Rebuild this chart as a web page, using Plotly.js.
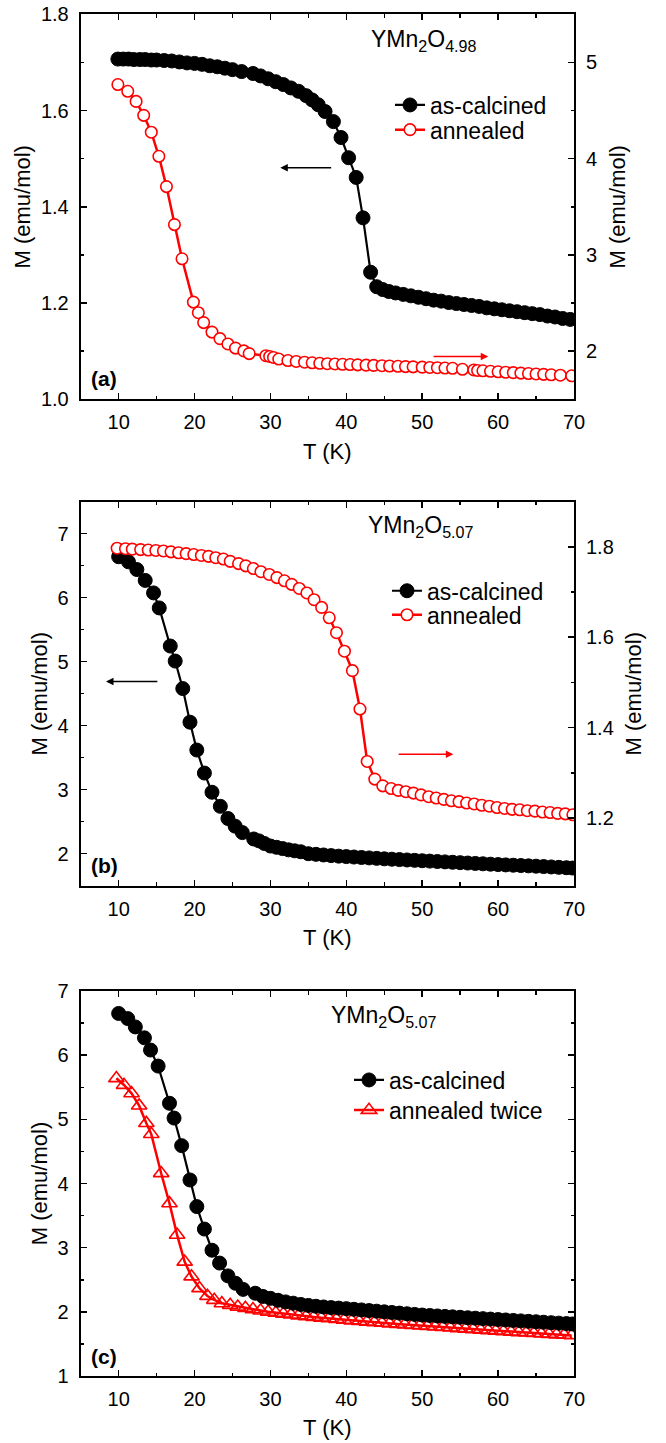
<!DOCTYPE html>
<html><head><meta charset="utf-8">
<script src="https://cdn.plot.ly/plotly-3.0.1.min.js"></script>
<style>html,body{margin:0;padding:0;background:#fff}</style>
</head><body><div id="chart" style="width:666px;height:1443px"></div>
<script>
// ---------- Panel (a): YMn2O4.98 ----------
const Ta_calc = [9.9,10.6,11.3,12.0,12.8,13.5,14.3,15.0,16.0,17.0,18.0,19.0,20.0,21.0,22.0,23.0,24.0,25.0,26.2,27.7,28.7,29.7,30.7,31.7,32.7,33.7,34.7,35.5,36.3,37.2,38.3,39.3,40.3,41.3,42.2,43.2,44.0,44.8,45.6,46.5,47.5,48.5,49.5,50.5,51.5,52.5,53.5,54.5,55.5,56.5,57.5,58.5,59.5,60.5,61.5,62.5,63.5,64.5,65.5,66.5,67.5,68.5,69.5];
const Ma_calc = [1.707,1.707,1.707,1.706,1.706,1.706,1.705,1.705,1.704,1.703,1.701,1.699,1.698,1.696,1.693,1.691,1.688,1.685,1.681,1.677,1.672,1.666,1.660,1.654,1.647,1.640,1.631,1.622,1.612,1.598,1.577,1.544,1.502,1.461,1.377,1.264,1.234,1.228,1.224,1.221,1.218,1.215,1.212,1.209,1.206,1.204,1.201,1.199,1.197,1.195,1.193,1.190,1.188,1.186,1.184,1.182,1.180,1.178,1.176,1.173,1.171,1.168,1.166];
const Ta_ann = [9.9,11.2,12.3,13.3,14.3,15.3,16.3,17.35,18.35,19.85,20.5,21.2,22.3,23.35,24.4,25.4,26.5,27.2,29.4,29.9,30.4,31.1,32.3,33.4,34.5,35.5,36.5,37.5,38.5,39.5,40.5,41.5,42.6,43.6,44.7,45.7,46.8,47.8,48.8,50.0,51.0,52.0,53.0,54.0,55.3,56.8,57.3,58.0,59.0,60.0,61.0,62.0,63.0,64.0,65.0,66.0,67.0,68.2,69.7];
const Ma_ann = [4.77,4.70,4.595,4.45,4.275,4.025,3.71,3.315,2.96,2.51,2.40,2.297,2.198,2.13,2.075,2.032,2.003,1.975,1.953,1.945,1.935,1.918,1.903,1.893,1.885,1.879,1.874,1.870,1.867,1.864,1.861,1.858,1.855,1.852,1.849,1.846,1.843,1.840,1.837,1.834,1.831,1.828,1.825,1.822,1.812,1.805,1.800,1.796,1.791,1.786,1.781,1.777,1.772,1.768,1.763,1.759,1.755,1.750,1.744];

// ---------- Panel (b): YMn2O5.07 ----------
const Tb_calc = [10.0,11.3,12.4,13.5,14.6,15.35,16.8,17.45,18.45,19.4,20.3,21.3,22.3,23.4,24.4,25.35,26.3,27.8,28.5,29.2,30.0,30.8,31.6,32.4,33.2,34.0,35,36,37,38,39,40,41,42,43,44,45,46,47,48,49,50,51,52,53,54,55,56,57,58,59,60,61,62,63,64,65,66,67,68,69,69.8];
const Mb_calc = [6.64,6.56,6.44,6.27,6.075,5.84,5.245,5.01,4.58,4.055,3.62,3.26,2.96,2.74,2.55,2.43,2.33,2.23,2.20,2.16,2.12,2.10,2.08,2.06,2.045,2.03,2.0,1.99,1.98,1.97,1.962,1.955,1.948,1.941,1.934,1.927,1.92,1.914,1.908,1.902,1.896,1.89,1.884,1.878,1.872,1.866,1.86,1.854,1.848,1.842,1.836,1.83,1.825,1.82,1.815,1.81,1.805,1.799,1.793,1.787,1.781,1.776];
const Tb_ann = [9.8,10.9,11.8,12.9,13.9,14.9,15.9,16.9,17.9,18.9,19.9,20.9,21.85,22.8,23.8,24.7,25.8,26.75,27.75,28.75,29.85,30.85,31.85,32.8,33.8,34.8,35.75,36.75,37.75,38.7,39.75,40.8,41.8,42.75,43.75,44.8,45.9,46.85,47.85,48.85,49.85,50.85,51.85,52.85,53.85,54.85,55.85,56.85,57.85,58.85,59.85,60.85,61.85,62.85,63.85,64.85,65.85,66.85,67.85,68.85,69.85];
const Mb_ann = [1.797,1.796,1.795,1.794,1.793,1.792,1.791,1.789,1.787,1.785,1.783,1.781,1.779,1.776,1.773,1.768,1.763,1.758,1.752,1.745,1.739,1.732,1.725,1.717,1.708,1.698,1.683,1.666,1.643,1.610,1.569,1.526,1.441,1.325,1.286,1.271,1.265,1.261,1.258,1.255,1.251,1.247,1.244,1.241,1.238,1.236,1.233,1.231,1.228,1.226,1.223,1.221,1.219,1.218,1.216,1.215,1.213,1.212,1.210,1.209,1.207];

// ---------- Panel (c): YMn2O5.07 ----------
const Tc_calc = [10.0,11.2,12.2,13.4,14.2,15.2,16.7,17.3,18.3,19.4,20.3,21.3,22.3,23.3,24.4,25.4,26.4,28.0,29,30,31,32,33,34,35,36,37,38,39,40,41,42,43,44,45,46,47,48,49,50,51,52,53,54,55,56,57,58,59,60,61,62,63,64,65,66,67,68,69,69.8];
const Mc_calc = [6.65,6.57,6.44,6.27,6.08,5.83,5.25,5.02,4.59,4.055,3.64,3.29,2.96,2.76,2.56,2.445,2.35,2.29,2.24,2.21,2.18,2.155,2.135,2.115,2.10,2.087,2.076,2.066,2.058,2.05,2.04,2.03,2.02,2.01,2.0,1.99,1.98,1.97,1.96,1.95,1.943,1.936,1.929,1.922,1.915,1.908,1.901,1.894,1.887,1.88,1.873,1.866,1.859,1.852,1.845,1.838,1.831,1.824,1.817,1.811];
const Tc_ann2 = [9.7,10.7,11.7,12.7,13.65,14.3,15.6,16.7,17.7,18.7,19.6,20.65,21.7,22.6,23.6,24.7,25.7,26.7,27.7,28.7,29.7,30.7,31.7,32.7,33.7,34.7,35.7,36.7,37.7,38.7,39.7,40.7,41.7,42.7,43.7,44.7,45.7,46.7,47.7,48.7,49.7,50.7,51.7,52.7,53.7,54.7,55.7,56.7,57.7,58.7,59.7,60.7,61.7,62.7,63.7,64.7,65.7,66.7,67.7,68.7,69.7];
const Mc_ann2 = [5.64,5.535,5.405,5.213,4.94,4.77,4.16,3.69,3.2,2.78,2.55,2.367,2.247,2.185,2.133,2.107,2.08,2.06,2.04,2.02,2.0,1.985,1.97,1.956,1.943,1.931,1.919,1.908,1.897,1.886,1.875,1.865,1.855,1.845,1.836,1.827,1.818,1.81,1.801,1.793,1.785,1.777,1.769,1.761,1.753,1.745,1.737,1.729,1.721,1.713,1.705,1.697,1.689,1.682,1.675,1.668,1.661,1.654,1.647,1.64,1.633];

const FONT = 'Liberation Sans, Arial, Helvetica, sans-serif';
const BLACK = '#000000', RED = '#ff0000';
const W = 666, H = 1443;
const px = v => v / W, py = v => 1 - v / H;

const xDom = [px(80.7), px(574)];
const domA = [py(399.3), py(14.3)], domB = [py(885.7), py(501.7)], domC = [py(1376), py(991)];

function xAxis(dom, anchor) {
  return {
    domain: dom, anchor: anchor, range: [5, 70], tick0: 0, dtick: 10,
    ticks: 'inside', ticklen: 6, tickwidth: 1.5, tickcolor: BLACK,
    showline: true, linecolor: BLACK, linewidth: 2, mirror: 'ticks',
    showgrid: false, zeroline: false, ticklabelstandoff: 4,
    tickfont: {family: FONT, size: 20, color: BLACK},
    minor: {tick0: 0, dtick: 5, ticks: 'inside', ticklen: 3.5, tickwidth: 1.5, tickcolor: BLACK, showgrid: false},
    title: {text: 'T (K)', font: {family: FONT, size: 22, color: BLACK}, standoff: 11}
  };
}
function yAxis(dom, anchor, range, dtick, mdtick, fmt, side, mirror, overlaying) {
  const a = {
    domain: dom, anchor: anchor, range: range, tick0: 0, dtick: dtick, tickformat: fmt,
    ticks: 'inside', ticklen: 6, tickwidth: 1.5, tickcolor: BLACK,
    showline: true, linecolor: BLACK, linewidth: 2, mirror: mirror,
    showgrid: false, zeroline: false, side: side, ticklabelstandoff: 6,
    tickfont: {family: FONT, size: 20, color: BLACK},
    minor: {tick0: 0, dtick: mdtick, ticks: 'inside', ticklen: 3.5, tickwidth: 1.5, tickcolor: BLACK, showgrid: false},
    title: {text: 'M (emu/mol)', font: {family: FONT, size: 22, color: BLACK}, standoff: side === 'right' ? 13 : 4}
  };
  if (overlaying) a.overlaying = overlaying;
  return a;
}

const calcStyle = (leg) => ({
  mode: 'lines+markers', name: 'as-calcined', legend: leg,
  line: {color: BLACK, width: 2.2},
  marker: {symbol: 'circle', size: 14, color: BLACK, line: {color: BLACK, width: 1}}
});
const annStyle = (leg, name) => ({
  mode: 'lines+markers', name: name, legend: leg,
  line: {color: RED, width: 2.5},
  marker: {symbol: 'circle', size: 11.5, color: '#ffffff', line: {color: RED, width: 1.6}}
});

const traces = [
  Object.assign({x: Ta_calc, y: Ma_calc, xaxis: 'x', yaxis: 'y'}, calcStyle('legend')),
  Object.assign({x: Ta_ann, y: Ma_ann, xaxis: 'x', yaxis: 'y2'}, annStyle('legend2', 'annealed')),
  Object.assign({x: Tb_calc, y: Mb_calc, xaxis: 'x2', yaxis: 'y3'}, calcStyle('legend3')),
  Object.assign({x: Tb_ann, y: Mb_ann, xaxis: 'x2', yaxis: 'y4'}, annStyle('legend4', 'annealed')),
  {x: Tc_ann2, y: Mc_ann2, xaxis: 'x3', yaxis: 'y5', mode: 'lines+markers', name: 'annealed twice', legend: 'legend6',
   line: {color: RED, width: 2.5},
   marker: {symbol: 'triangle-up-open', size: 13.5, color: RED, line: {color: RED, width: 1.6}}},
  Object.assign({x: Tc_calc, y: Mc_calc, xaxis: 'x3', yaxis: 'y5'}, calcStyle('legend5'))
];

function leg(xText, yMid) {
  return {x: px(xText - 40), y: py(yMid), xanchor: 'left', yanchor: 'middle',
    bgcolor: 'rgba(0,0,0,0)', borderwidth: 0, itemwidth: 30,
    font: {family: FONT, size: 23, color: BLACK}};
}

function arrow(xh, xt, yv, yref, xref, col) {
  return {x: xh, y: yv, ax: xt, ay: yv, xref: xref, yref: yref, axref: xref, ayref: yref,
    text: '', showarrow: true, arrowhead: 2, arrowsize: 1, arrowwidth: 1.5, arrowcolor: col, standoff: 0, startstandoff: 0};
}
function label(txt, xl, ym) {
  return {xref: 'paper', yref: 'paper', x: px(xl), y: py(ym), xanchor: 'left', yanchor: 'middle', showarrow: false,
    text: '<b>' + txt + '</b>', font: {family: FONT, size: 21, color: BLACK}};
}
function formula(txt, xl, ytop) {
  return {xref: 'paper', yref: 'paper', x: px(xl), y: py(ytop), xanchor: 'left', yanchor: 'top', showarrow: false,
    text: txt, font: {family: FONT, size: 23, color: BLACK}};
}

const layout = {
  width: W, height: H, margin: {l: 0, r: 0, t: 0, b: 0},
  paper_bgcolor: '#ffffff', plot_bgcolor: '#ffffff', showlegend: true,
  xaxis: xAxis(xDom, 'y'),
  yaxis: yAxis(domA, 'x', [1.0, 1.8], 0.2, 0.1, '.1f', 'left', false),
  yaxis2: yAxis(domA, 'x', [1.5, 5.5], 1, 0.5, 'd', 'right', false, 'y'),
  xaxis2: xAxis(xDom, 'y3'),
  yaxis3: yAxis(domB, 'x2', [1.5, 7.5], 1, 0.5, 'd', 'left', false),
  yaxis4: yAxis(domB, 'x2', [1.05, 1.9], 0.2, 0.1, '.1f', 'right', false, 'y3'),
  xaxis3: xAxis(xDom, 'y5'),
  yaxis5: yAxis(domC, 'x3', [1, 7], 1, 0.5, 'd', 'left', 'ticks'),
  legend: leg(430, 105), legend2: leg(430, 129.7),
  legend3: leg(427, 590.8), legend4: leg(427, 614.8),
  legend5: leg(389, 1080), legend6: leg(389, 1110),
  annotations: [
    arrow(31.3, 38.2, 1.481, 'y', 'x', BLACK),
    arrow(58.7, 51.3, 1.944, 'y2', 'x', RED),
    arrow(8.33, 15.3, 4.69, 'y3', 'x2', BLACK),
    arrow(54.1, 46.7, 1.341, 'y4', 'x2', RED),
    label('(a)', 89, 378), label('(b)', 89, 866), label('(c)', 89, 1356),
    formula('YMn<sub>2</sub>O<sub>4.98</sub>', 369, 24),
    formula('YMn<sub>2</sub>O<sub>5.07</sub>', 366, 510),
    formula('YMn<sub>2</sub>O<sub>5.07</sub>', 329, 1000)
  ]
};

Plotly.newPlot('chart', traces, layout, {staticPlot: true, displayModeBar: false});
</script></body></html>
